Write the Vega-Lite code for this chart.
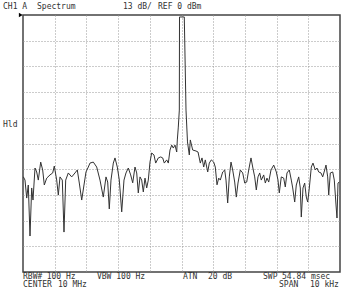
{
  "$schema": "https://vega.github.io/schema/vega-lite/v6.json",
  "width": 317,
  "height": 257,
  "autosize": {"type": "none"},
  "padding": {"left": 23, "top": 15, "right": 3, "bottom": 18},
  "background": "white",
  "config": {"view": {"stroke": "#444", "strokeWidth": 1.5}, "font": "DejaVu Sans Mono"},
  "datasets": {
    "trace": [
      {"f": -4.991, "level": -81.8}, {"f": -4.937, "level": -83.5}, {"f": -4.883, "level": -92.6}, {"f": -4.833, "level": -86.0},
      {"f": -4.779, "level": -111.8}, {"f": -4.726, "level": -87.5}, {"f": -4.685, "level": -93.6}, {"f": -4.621, "level": -77.4},
      {"f": -4.568, "level": -79.4}, {"f": -4.517, "level": -83.5}, {"f": -4.442, "level": -74.4}, {"f": -4.379, "level": -78.4},
      {"f": -4.328, "level": -86.0}, {"f": -4.252, "level": -82.5}, {"f": -4.148, "level": -80.9}, {"f": -4.063, "level": -79.9},
      {"f": -4.013, "level": -76.4}, {"f": -3.937, "level": -83.5}, {"f": -3.886, "level": -91.1}, {"f": -3.833, "level": -81.9},
      {"f": -3.760, "level": -83.5}, {"f": -3.707, "level": -109.8}, {"f": -3.653, "level": -83.5}, {"f": -3.571, "level": -79.9},
      {"f": -3.464, "level": -81.9}, {"f": -3.360, "level": -79.9}, {"f": -3.287, "level": -78.4}, {"f": -3.224, "level": -85.0},
      {"f": -3.148, "level": -93.6}, {"f": -3.076, "level": -86.0}, {"f": -3.013, "level": -79.4}, {"f": -2.940, "level": -76.9},
      {"f": -2.886, "level": -74.9}, {"f": -2.782, "level": -74.4}, {"f": -2.675, "level": -76.9}, {"f": -2.571, "level": -83.5},
      {"f": -2.467, "level": -92.1}, {"f": -2.382, "level": -81.9}, {"f": -2.328, "level": -84.5}, {"f": -2.278, "level": -98.1},
      {"f": -2.224, "level": -83.5}, {"f": -2.151, "level": -74.9}, {"f": -2.098, "level": -72.3}, {"f": -2.025, "level": -76.9},
      {"f": -1.962, "level": -83.5}, {"f": -1.886, "level": -99.6}, {"f": -1.814, "level": -83.5}, {"f": -1.751, "level": -79.9},
      {"f": -1.678, "level": -77.4}, {"f": -1.603, "level": -80.9}, {"f": -1.539, "level": -84.9}, {"f": -1.467, "level": -76.9},
      {"f": -1.413, "level": -79.9}, {"f": -1.363, "level": -90.0}, {"f": -1.309, "level": -81.9}, {"f": -1.256, "level": -83.5},
      {"f": -1.205, "level": -89.5}, {"f": -1.151, "level": -82.5}, {"f": -1.098, "level": -87.5}, {"f": -1.047, "level": -83.5},
      {"f": -0.994, "level": -74.4}, {"f": -0.940, "level": -69.8}, {"f": -0.868, "level": -70.8}, {"f": -0.814, "level": -74.9},
      {"f": -0.732, "level": -72.3}, {"f": -0.656, "level": -71.8}, {"f": -0.593, "level": -72.3}, {"f": -0.543, "level": -74.9},
      {"f": -0.467, "level": -73.3}, {"f": -0.416, "level": -74.9}, {"f": -0.363, "level": -68.3}, {"f": -0.309, "level": -65.8},
      {"f": -0.259, "level": -67.3}, {"f": -0.205, "level": -65.8}, {"f": -0.151, "level": -69.3}, {"f": -0.132, "level": -63.2},
      {"f": -0.101, "level": -56.7}, {"f": -0.069, "level": -48.1}, {"f": -0.063, "level": -1.0}, {"f": 0.088, "level": -1.0},
      {"f": 0.142, "level": -48.1}, {"f": 0.189, "level": -64.2}, {"f": 0.246, "level": -70.8}, {"f": 0.278, "level": -63.2},
      {"f": 0.353, "level": -68.3}, {"f": 0.457, "level": -68.8}, {"f": 0.521, "level": -69.3}, {"f": 0.593, "level": -74.9},
      {"f": 0.647, "level": -72.3}, {"f": 0.700, "level": -76.9}, {"f": 0.751, "level": -73.3}, {"f": 0.827, "level": -79.4},
      {"f": 0.877, "level": -74.9}, {"f": 0.940, "level": -73.3}, {"f": 1.016, "level": -74.4}, {"f": 1.066, "level": -76.9},
      {"f": 1.120, "level": -85.9}, {"f": 1.174, "level": -82.5}, {"f": 1.224, "level": -83.5}, {"f": 1.300, "level": -79.4},
      {"f": 1.363, "level": -78.4}, {"f": 1.404, "level": -83.5}, {"f": 1.457, "level": -95.1}, {"f": 1.508, "level": -81.9},
      {"f": 1.562, "level": -74.4}, {"f": 1.615, "level": -78.4}, {"f": 1.678, "level": -84.5}, {"f": 1.729, "level": -92.1},
      {"f": 1.782, "level": -85.0}, {"f": 1.855, "level": -78.4}, {"f": 1.931, "level": -79.9}, {"f": 1.994, "level": -85.0},
      {"f": 2.057, "level": -84.5}, {"f": 2.120, "level": -78.4}, {"f": 2.192, "level": -72.3}, {"f": 2.246, "level": -76.9},
      {"f": 2.309, "level": -81.9}, {"f": 2.360, "level": -88.5}, {"f": 2.413, "level": -81.9}, {"f": 2.467, "level": -79.9},
      {"f": 2.517, "level": -83.5}, {"f": 2.593, "level": -80.9}, {"f": 2.644, "level": -85.0}, {"f": 2.697, "level": -82.5},
      {"f": 2.751, "level": -84.5}, {"f": 2.823, "level": -78.4}, {"f": 2.909, "level": -75.9}, {"f": 2.991, "level": -79.4},
      {"f": 3.044, "level": -83.5}, {"f": 3.085, "level": -90.0}, {"f": 3.148, "level": -81.9}, {"f": 3.224, "level": -82.5},
      {"f": 3.274, "level": -87.0}, {"f": 3.328, "level": -79.9}, {"f": 3.401, "level": -78.4}, {"f": 3.464, "level": -83.5},
      {"f": 3.508, "level": -87.5}, {"f": 3.571, "level": -94.6}, {"f": 3.621, "level": -86.0}, {"f": 3.697, "level": -81.9},
      {"f": 3.748, "level": -87.5}, {"f": 3.779, "level": -102.2}, {"f": 3.833, "level": -87.5}, {"f": 3.886, "level": -85.0},
      {"f": 3.937, "level": -92.1}, {"f": 3.981, "level": -94.6}, {"f": 4.032, "level": -87.5}, {"f": 4.095, "level": -76.9},
      {"f": 4.148, "level": -74.9}, {"f": 4.221, "level": -78.4}, {"f": 4.274, "level": -77.4}, {"f": 4.328, "level": -79.4},
      {"f": 4.401, "level": -79.9}, {"f": 4.454, "level": -81.9}, {"f": 4.517, "level": -78.4}, {"f": 4.558, "level": -75.9},
      {"f": 4.612, "level": -81.9}, {"f": 4.644, "level": -91.1}, {"f": 4.694, "level": -79.9}, {"f": 4.770, "level": -79.4},
      {"f": 4.820, "level": -83.5}, {"f": 4.874, "level": -96.1}, {"f": 4.905, "level": -102.7}, {"f": 4.937, "level": -85.0},
      {"f": 4.978, "level": -84.5}
    ],
    "labels": [
      {"f": -5.631, "level": 4.05, "text": "CH1 A"},
      {"f": -4.558, "level": 4.05, "text": "Spectrum"},
      {"f": -1.845, "level": 4.05, "text": "13 dB/"},
      {"f": -0.741, "level": 4.05, "text": "REF 0 dBm"},
      {"f": -5.631, "level": -55.6, "text": "Hld"},
      {"f": -5.0, "level": -132.5, "text": "RBW#"},
      {"f": -4.253, "level": -132.5, "text": "100 Hz"},
      {"f": -2.666, "level": -132.5, "text": "VBW 100 Hz"},
      {"f": 0.047, "level": -132.5, "text": "ATN"},
      {"f": 0.836, "level": -132.5, "text": "20 dB"},
      {"f": 2.571, "level": -132.5, "text": "SWP"},
      {"f": 3.170, "level": -132.5, "text": "54.84 msec"},
      {"f": -5.0, "level": -136.8, "text": "CENTER"},
      {"f": -3.896, "level": -136.8, "text": "10 MHz"},
      {"f": 3.076, "level": -136.8, "text": "SPAN"},
      {"f": 4.054, "level": -136.8, "text": "10 kHz"}
    ],
    "marker": [{"f": -5.07, "level": 0}]
  },
  "encoding": {
    "x": {"field": "f", "type": "quantitative",
      "scale": {"domain": [-5, 5], "nice": false, "zero": false},
      "axis": {"values": [-4, -3, -2, -1, 0, 1, 2, 3, 4], "labels": false, "ticks": false, "domain": false, "title": null, "gridDash": [1, 2], "gridColor": "#999", "gridWidth": 1}},
    "y": {"field": "level", "type": "quantitative",
      "scale": {"domain": [-130, 0], "nice": false, "zero": false},
      "axis": {"values": [-117, -104, -91, -78, -65, -52, -39, -26, -13], "labels": false, "ticks": false, "domain": false, "title": null, "gridDash": [1, 2], "gridColor": "#999", "gridWidth": 1}}
  },
  "layer": [
    {
      "data": {"name": "trace"},
      "mark": {"type": "line", "color": "#333", "strokeWidth": 1, "clip": true},
      "encoding": {}
    },
    {
      "data": {"name": "labels"},
      "mark": {"type": "text", "align": "left", "baseline": "middle", "fontSize": 8, "font": "DejaVu Sans Mono", "color": "#333", "clip": false},
      "encoding": {
        "text": {"field": "text"}
      }
    },
    {
      "data": {"name": "marker"},
      "mark": {"type": "point", "shape": "triangle-right", "filled": true, "color": "#000", "size": 20, "opacity": 1, "clip": false},
      "encoding": {}
    }
  ]
}
